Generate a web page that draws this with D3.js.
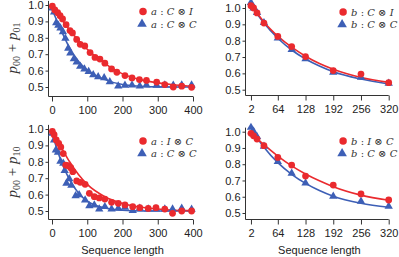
<!DOCTYPE html>
<meta charset="utf-8">
<style>
body { margin: 0; background: #fff; }
.tick text { font-family: "Liberation Sans", Arial, sans-serif; font-size: 11px; fill: #222; }
.axis path, .axis line { stroke: #333; stroke-width: 1px; }
.fit { fill: none; stroke-width: 1.6px; }
.leg { font-family: "DejaVu Serif", "Liberation Serif", serif; font-size: 10px; font-style: italic; }
.ttl { font-family: "Liberation Serif", "DejaVu Serif", serif; font-size: 15px; font-style: italic; fill: #333; }
.xlab { font-family: "Liberation Sans", Arial, sans-serif; font-size: 11px; fill: #222; }
</style>
<svg width="399" height="257"></svg>
<script src="https://cdn.jsdelivr.net/npm/d3@7"></script>
<script>

var red = "#ea2a2e", blue = "#3d5fb6";

// panel a (top-left: C(x)I vs C(x)C, bottom-left: I(x)C vs C(x)C)
var aTicks = [0, 100, 200, 300, 400];
var aFitX = [0, 25, 50, 75, 100, 150, 200, 250, 300, 350, 400];

var tlRedX = [1, 8, 16, 23, 30, 40, 51, 58, 70, 80, 93, 108, 122, 136, 150, 169, 184, 207, 227, 248, 268, 297, 320, 344, 368, 396];
var tlRedY = [0.993, 0.97, 0.953, 0.935, 0.915, 0.88, 0.844, 0.83, 0.79, 0.76, 0.75, 0.71, 0.68, 0.67, 0.645, 0.61, 0.59, 0.57, 0.555, 0.545, 0.54, 0.53, 0.515, 0.5, 0.505, 0.498];
var tlBlueX = [1, 6, 12, 18, 24, 31, 38, 46, 52, 62, 70, 80, 92, 104, 117, 131, 148, 164, 188, 207, 227, 249, 268, 297, 320, 344, 368, 396];
var tlBlueY = [0.975, 0.95, 0.885, 0.87, 0.853, 0.83, 0.79, 0.73, 0.70, 0.665, 0.645, 0.62, 0.603, 0.588, 0.568, 0.556, 0.55, 0.525, 0.5, 0.504, 0.506, 0.5, 0.506, 0.504, 0.506, 0.504, 0.505, 0.506];
var tlRedFit = [0.99, 0.918, 0.848, 0.785, 0.73, 0.643, 0.58, 0.545, 0.525, 0.512, 0.504];
var tlBlueFit = [0.975, 0.85, 0.738, 0.657, 0.603, 0.545, 0.515, 0.505, 0.501, 0.5, 0.5];

var blRedX = [1, 6, 12, 19, 25, 32, 39, 46, 53, 59, 70, 80, 94, 106, 120, 134, 150, 169, 188, 207, 229, 249, 273, 295, 320, 342, 368, 396];
var blRedY = [0.985, 0.965, 0.933, 0.913, 0.89, 0.85, 0.78, 0.776, 0.764, 0.74, 0.683, 0.675, 0.663, 0.608, 0.587, 0.58, 0.573, 0.553, 0.547, 0.537, 0.526, 0.52, 0.516, 0.52, 0.512, 0.486, 0.5, 0.5];
var blBlueX = [1, 6, 11, 17, 24, 32, 36, 41, 49, 55, 67, 77, 94, 106, 120, 134, 150, 169, 188, 207, 229, 249, 273, 295, 320, 342, 368, 396];
var blBlueY = [0.968, 0.927, 0.866, 0.852, 0.797, 0.785, 0.74, 0.663, 0.69, 0.65, 0.587, 0.593, 0.56, 0.526, 0.53, 0.506, 0.52, 0.506, 0.51, 0.516, 0.496, 0.51, 0.506, 0.506, 0.506, 0.506, 0.51, 0.504];
var blRedFit = [0.985, 0.893, 0.8, 0.722, 0.662, 0.587, 0.546, 0.524, 0.512, 0.505, 0.502];
var blBlueFit = [0.975, 0.81, 0.69, 0.61, 0.56, 0.518, 0.505, 0.5, 0.5, 0.5, 0.5];

// panel b (right column)
var bTicks = [2, 64, 128, 192, 256, 320];
var bX = [2, 8, 16, 32, 64, 96, 128, 192, 256, 320];
var bFitX = [2, 16, 32, 64, 96, 128, 160, 192, 256, 320];

var trRedY = [1.014, 1.0, 0.97, 0.908, 0.826, 0.764, 0.703, 0.617, 0.596, 0.543];
var trBlueY = [1.027, 0.994, 0.965, 0.904, 0.81, 0.74, 0.682, 0.6, 0.57, 0.533];
var trRedFit = [1.02, 0.97, 0.915, 0.828, 0.76, 0.705, 0.66, 0.625, 0.575, 0.545];
var trBlueFit = [1.02, 0.965, 0.908, 0.815, 0.743, 0.688, 0.645, 0.61, 0.565, 0.535];

var brRedY = [0.99, 0.975, 0.955, 0.914, 0.842, 0.795, 0.727, 0.672, 0.617, 0.58];
var brBlueY = [1.02, 0.996, 0.963, 0.904, 0.81, 0.738, 0.678, 0.596, 0.566, 0.535];
var brRedFit = [0.993, 0.958, 0.92, 0.85, 0.79, 0.74, 0.698, 0.662, 0.61, 0.578];
var brBlueFit = [1.022, 0.963, 0.905, 0.81, 0.738, 0.682, 0.638, 0.603, 0.56, 0.535];

var yTicks = [0.5, 0.6, 0.7, 0.8, 0.9, 1.0];

var panels = [
  { x0: 52, x1: 193, dom: [0, 400], ax: 48.5, top: 5, bot: 87, axY: 96.5, ticks: aTicks,
    red: [tlRedX, tlRedY], blue: [tlBlueX, tlBlueY], fitX: aFitX, redFit: tlRedFit, blueFit: tlBlueFit,
    leg: [["a", "C", "I"], ["a", "C", "C"]], title: ["00", "01"], xlab: false },
  { x0: 250.1, x1: 388.7, dom: [0, 320], ax: 245.5, top: 8, bot: 89.7, axY: 95.5, ticks: bTicks,
    red: [bX, trRedY], blue: [bX, trBlueY], fitX: bFitX, redFit: trRedFit, blueFit: trBlueFit,
    leg: [["b", "C", "I"], ["b", "C", "C"]], title: null, xlab: false },
  { x0: 52, x1: 193, dom: [0, 400], ax: 48.5, top: 129, bot: 211, axY: 219.5, ticks: aTicks,
    red: [blRedX, blRedY], blue: [blBlueX, blBlueY], fitX: aFitX, redFit: blRedFit, blueFit: blBlueFit,
    leg: [["a", "I", "C"], ["a", "C", "C"]], title: ["00", "10"], xlab: true },
  { x0: 250.1, x1: 388.7, dom: [0, 320], ax: 245.5, top: 131.7, bot: 213, axY: 219.5, ticks: bTicks,
    red: [bX, brRedY], blue: [bX, brBlueY], fitX: bFitX, redFit: brRedFit, blueFit: brBlueFit,
    leg: [["b", "I", "C"], ["b", "C", "C"]], title: null, xlab: true }
];

var svg = d3.select("svg");
var tri = d3.symbol().type(d3.symbolTriangle).size(30);
var dot = d3.symbol().type(d3.symbolCircle).size(36);

panels.forEach(function(p) {
  var x = d3.scaleLinear().domain(p.dom).range([p.x0, p.x1]);
  var y = d3.scaleLinear().domain([0.5, 1.0]).range([p.bot, p.top]);
  var yTop = y(1.025);

  var g = svg.append("g");

  // y axis
  var ya = g.append("g").attr("class", "axis")
      .attr("transform", "translate(" + p.ax + ",0)")
      .call(d3.axisLeft(y).tickValues(yTicks).tickFormat(d3.format(".1f")).tickSize(3).tickPadding(2).tickSizeOuter(0));
  ya.select(".domain").attr("d", "M0," + yTop + "V" + p.axY);

  // x axis
  var xa = g.append("g").attr("class", "axis")
      .attr("transform", "translate(0," + p.axY + ")")
      .call(d3.axisBottom(x).tickValues(p.ticks).tickSize(5).tickPadding(5).tickSizeOuter(0));
  xa.select(".domain").attr("d", "M" + p.ax + ",0H" + p.x1);

  var line = d3.line()
      .x(function(d, i) { return x(p.fitX[i]); })
      .y(function(d) { return y(d); })
      .curve(d3.curveMonotoneX);

  g.append("path").attr("class", "fit").attr("stroke", blue).attr("d", line(p.blueFit));
  g.append("path").attr("class", "fit").attr("stroke", red).attr("d", line(p.redFit));

  g.selectAll(".tri").data(p.blue[0]).enter().append("path")
      .attr("fill", blue)
      .attr("transform", function(d, i) { return "translate(" + x(d) + "," + (y(p.blue[1][i]) - 1) + ")"; })
      .attr("d", tri);
  g.selectAll(".dot").data(p.red[0]).enter().append("path")
      .attr("fill", red)
      .attr("transform", function(d, i) { return "translate(" + x(d) + "," + y(p.red[1][i]) + ")"; })
      .attr("d", dot);

  // legend
  var lx = p.x0 + (p.ax < 100 ? 91 : 93);
  var ly = p.top + (p.ax < 100 ? 6.5 : 4);
  if (p.top > 100) ly = p.top + (p.ax < 100 ? 12 : 9.3);
  g.append("path").attr("fill", red).attr("transform", "translate(" + lx + "," + ly + ")").attr("d", d3.symbol().type(d3.symbolCircle).size(44));
  g.append("path").attr("fill", blue).attr("transform", "translate(" + (lx - 1) + "," + (ly + 12.5) + ")").attr("d", d3.symbol().type(d3.symbolTriangle).size(40));
  p.leg.forEach(function(l, i) {
    var t = g.append("text").attr("class", "leg")
        .attr("x", lx + 8).attr("y", ly + 3.5 + i * 12.5)
        .attr("fill", "#333");
    t.append("tspan").text(l[0]);
    t.append("tspan").attr("font-style", "normal").text(" : ");
    t.append("tspan").text(l[1]);
    t.append("tspan").attr("font-style", "normal").text(" \u2297 ");
    t.append("tspan").text(l[2]);
  });

  if (p.title) {
    var cy = (p.top + p.bot) / 2 + 2;
    var tt = g.append("text").attr("class", "ttl")
        .attr("transform", "translate(17," + cy + ") rotate(-90)")
        .attr("text-anchor", "middle");
    tt.append("tspan").text("p");
    tt.append("tspan").attr("font-size", "10px").attr("font-style", "normal").attr("dy", 3).text(p.title[0]);
    tt.append("tspan").attr("font-style", "normal").attr("dy", -3).text(" + ");
    tt.append("tspan").text("p");
    tt.append("tspan").attr("font-size", "10px").attr("font-style", "normal").attr("dy", 3).text(p.title[1]);
  }

  if (p.xlab) {
    g.append("text").attr("class", "xlab")
        .attr("x", (p.x0 + p.x1) / 2).attr("y", 253.5)
        .attr("text-anchor", "middle")
        .text("Sequence length");
  }
});

</script>
